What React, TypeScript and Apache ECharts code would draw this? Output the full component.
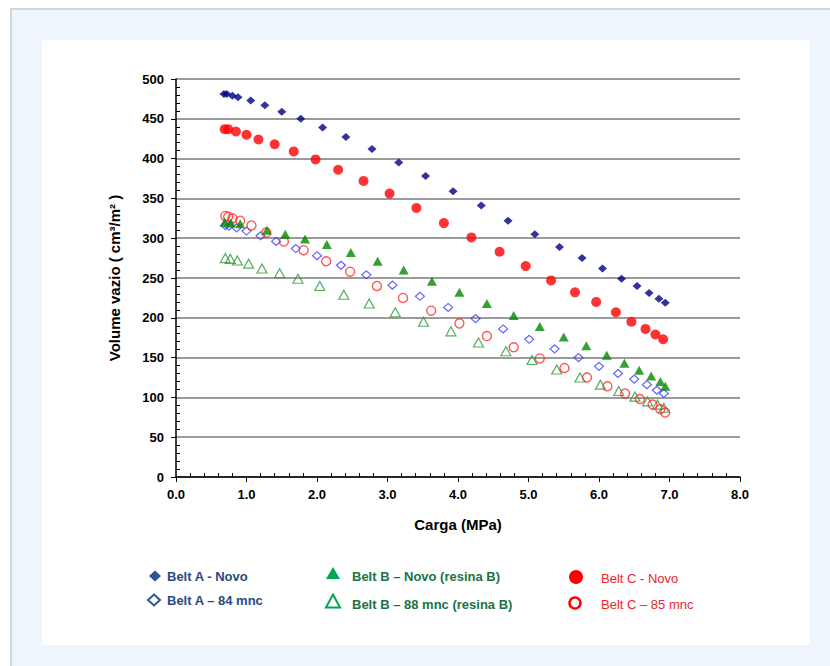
import React, { useEffect, useRef } from "react";
import * as echarts from "echarts";

// ---- Data ----
const beltANovoX = [0.68, 0.72, 0.8, 0.88, 1.06, 1.26, 1.5, 1.77, 2.08, 2.41, 2.78, 3.16, 3.54, 3.93, 4.33, 4.71, 5.09, 5.44, 5.76, 6.05, 6.32, 6.54, 6.71, 6.85, 6.94];
const beltANovoY = [481, 481, 479, 477, 473, 467, 459, 450, 439, 427, 412, 395, 378, 359, 341, 322, 305, 289, 275, 262, 249, 240, 231, 224, 219];

const beltA84X = [0.7, 0.75, 0.86, 1.0, 1.2, 1.42, 1.7, 2.0, 2.34, 2.7, 3.07, 3.46, 3.86, 4.25, 4.64, 5.01, 5.37, 5.71, 6.0, 6.27, 6.5, 6.68, 6.82, 6.92];
const beltA84Y = [316, 315, 313, 309, 303, 296, 287, 278, 266, 254, 241, 227, 213, 199, 186, 173, 161, 150, 139, 130, 123, 116, 109, 105];

const beltBNovoX = [0.69, 0.78, 0.91, 1.29, 1.55, 1.83, 2.14, 2.48, 2.86, 3.23, 3.63, 4.02, 4.41, 4.79, 5.16, 5.5, 5.82, 6.11, 6.36, 6.57, 6.74, 6.87, 6.94];
const beltBNovoY = [320, 319, 318, 310, 305, 299, 292, 282, 271, 260, 246, 232, 218, 203, 189, 176, 165, 153, 143, 134, 127, 120, 114];

const beltB88X = [0.7, 0.77, 0.87, 1.03, 1.22, 1.47, 1.73, 2.04, 2.38, 2.74, 3.11, 3.51, 3.9, 4.29, 4.68, 5.05, 5.4, 5.73, 6.02, 6.28, 6.51, 6.69, 6.83, 6.92];
const beltB88Y = [275, 274, 272, 268, 262, 256, 249, 240, 229, 218, 207, 195, 183, 169, 158, 147, 135, 125, 116, 108, 101, 95, 91, 87];

const beltCNovoX = [0.69, 0.74, 0.85, 1.0, 1.17, 1.4, 1.67, 1.98, 2.3, 2.66, 3.03, 3.41, 3.8, 4.19, 4.59, 4.96, 5.32, 5.66, 5.96, 6.24, 6.46, 6.66, 6.8, 6.91];
const beltCNovoY = [437, 437, 434, 430, 424, 418, 409, 399, 386, 372, 356, 338, 319, 301, 283, 265, 247, 232, 220, 207, 195, 186, 179, 173];

const beltC85X = [0.7, 0.74, 0.8, 0.91, 1.07, 1.28, 1.53, 1.81, 2.13, 2.47, 2.85, 3.22, 3.62, 4.02, 4.41, 4.79, 5.16, 5.51, 5.83, 6.12, 6.37, 6.58, 6.76, 6.87, 6.94];
const beltC85Y = [328, 327, 325, 322, 316, 307, 296, 285, 271, 258, 240, 225, 209, 193, 177, 163, 149, 137, 125, 114, 105, 98, 91, 85, 81];

const seriesNames = [
  "Belt A - Novo",
  "Belt A – 84 mnc",
  "Belt B – Novo (resina B)",
  "Belt B – 88 mnc (resina B)",
  "Belt C - Novo",
  "Belt C – 85 mnc",
];

const xAxisTitle = "Carga (MPa)";
const yAxisTitle = "Volume vazio ( cm³/m² )";

const zip = (xs: number[], ys: number[]) => xs.map((x, i) => [x, ys[i]]);

export default function App() {
  const ref = useRef<HTMLDivElement>(null);

  useEffect(() => {
    document.body.style.margin = "0";
    const chart = echarts.init(ref.current!, null, { renderer: "svg" });

    const axisFont = {
      fontFamily: "Liberation Sans, Arial, sans-serif",
      fontWeight: "bold" as const,
      fontSize: 13,
      color: "#000",
    };
    const legFont = "Liberation Sans, Arial, sans-serif";

    const diamond = (cx: number, cy: number, w: number, h: number) => [
      [cx, cy - h / 2],
      [cx + w / 2, cy],
      [cx, cy + h / 2],
      [cx - w / 2, cy],
    ];
    const tri = (cx: number, cy: number, w: number, h: number) => [
      [cx, cy - h / 2],
      [cx + w / 2, cy + h / 2],
      [cx - w / 2, cy + h / 2],
    ];

    const option: any = {
      animation: false,
      grid: { left: 176, right: 90, top: 79, bottom: 189, containLabel: false },
      xAxis: [
        {
          type: "value",
          min: 0,
          max: 8,
          interval: 1,
          name: xAxisTitle,
          nameLocation: "middle",
          nameGap: 40,
          nameTextStyle: { ...axisFont, fontSize: 15 },
          axisLine: { show: true, lineStyle: { color: "#000", width: 1.5 } },
          axisTick: { show: true, inside: false, length: 5, lineStyle: { color: "#000" } },
          axisLabel: { ...axisFont, margin: 11, formatter: (v: number) => v.toFixed(1) },
          splitLine: { show: false },
        },
        {
          type: "value",
          min: 0,
          max: 8,
          interval: 1,
          position: "bottom",
          axisLine: { show: false },
          axisTick: { show: false, inside: true },
          minorTick: { show: true, splitNumber: 5, length: 4, lineStyle: { color: "#000" } },
          axisLabel: { show: false },
          splitLine: { show: false },
        },
      ],
      yAxis: [
        {
          type: "value",
          min: 0,
          max: 500,
          interval: 50,
          name: yAxisTitle,
          nameLocation: "middle",
          nameGap: 54,
          nameTextStyle: { ...axisFont, fontSize: 15 },
          axisLine: { show: true, lineStyle: { color: "#000", width: 1.5 } },
          axisTick: { show: true, inside: false, length: 5, lineStyle: { color: "#000" } },
          axisLabel: { ...axisFont, margin: 12 },
          splitLine: { show: true, lineStyle: { color: "#7a7a7a", width: 1.6 } },
        },
        {
          type: "value",
          min: 0,
          max: 500,
          interval: 50,
          position: "left",
          axisLine: { show: false },
          axisTick: { show: false, inside: true },
          minorTick: { show: true, splitNumber: 5, length: 4, lineStyle: { color: "#000" } },
          axisLabel: { show: false },
          splitLine: { show: false },
        },
      ],
      series: [
        {
          name: seriesNames[1],
          type: "scatter",
          symbol: "diamond",
          symbolSize: [9, 8],
          itemStyle: { color: "rgba(255,255,255,0)", borderColor: "#3b3bff", borderWidth: 1.2 },
          data: zip(beltA84X, beltA84Y),
        },
        {
          name: seriesNames[3],
          type: "scatter",
          symbol: "triangle",
          symbolSize: [10, 9],
          itemStyle: { color: "rgba(255,255,255,0)", borderColor: "#2e9a3a", borderWidth: 1.2 },
          data: zip(beltB88X, beltB88Y),
        },
        {
          name: seriesNames[5],
          type: "scatter",
          symbol: "circle",
          symbolSize: 9,
          itemStyle: { color: "rgba(255,255,255,0)", borderColor: "#ff2a2a", borderWidth: 1.4 },
          data: zip(beltC85X, beltC85Y),
        },
        {
          name: seriesNames[2],
          type: "scatter",
          symbol: "triangle",
          symbolSize: [10, 9],
          itemStyle: { color: "#008a00" },
          data: zip(beltBNovoX, beltBNovoY),
        },
        {
          name: seriesNames[4],
          type: "scatter",
          symbol: "circle",
          symbolSize: 10,
          itemStyle: { color: "#ff0000" },
          data: zip(beltCNovoX, beltCNovoY),
        },
        {
          name: seriesNames[0],
          type: "scatter",
          symbol: "diamond",
          symbolSize: [9, 8],
          itemStyle: { color: "#000088" },
          data: zip(beltANovoX, beltANovoY),
        },
      ],
      graphic: [
        // Legend: Belt A
        { type: "polygon", shape: { points: diamond(155, 576, 12, 11) }, style: { fill: "#2e5597" } },
        {
          type: "text", x: 167, y: 576,
          style: { text: seriesNames[0], fill: "#2a4a7c", font: `bold 13px ${legFont}`, verticalAlign: "middle" },
        },
        { type: "polygon", shape: { points: diamond(154, 600, 12, 11) }, style: { fill: "none", stroke: "#2e5597", lineWidth: 2 } },
        {
          type: "text", x: 167, y: 600,
          style: { text: seriesNames[1], fill: "#2a4a7c", font: `bold 13px ${legFont}`, verticalAlign: "middle" },
        },
        // Legend: Belt B
        { type: "polygon", shape: { points: tri(333, 573, 14, 12) }, style: { fill: "#00a651" } },
        {
          type: "text", x: 352, y: 576,
          style: { text: seriesNames[2], fill: "#1b7342", font: `bold 13px ${legFont}`, verticalAlign: "middle" },
        },
        { type: "polygon", shape: { points: tri(333, 601, 14, 13) }, style: { fill: "none", stroke: "#00a651", lineWidth: 2 } },
        {
          type: "text", x: 352, y: 604,
          style: { text: seriesNames[3], fill: "#1b7342", font: `bold 13px ${legFont}`, verticalAlign: "middle" },
        },
        // Legend: Belt C
        { type: "circle", shape: { cx: 576, cy: 577, r: 7 }, style: { fill: "#ff0000" } },
        {
          type: "text", x: 601, y: 578,
          style: { text: seriesNames[4], fill: "#e8262b", font: `13px ${legFont}`, verticalAlign: "middle" },
        },
        { type: "circle", shape: { cx: 575, cy: 603, r: 5.5 }, style: { fill: "none", stroke: "#ff0000", lineWidth: 2.5 } },
        {
          type: "text", x: 601, y: 604,
          style: { text: seriesNames[5], fill: "#e8262b", font: `13px ${legFont}`, verticalAlign: "middle" },
        },
      ],
    };

    chart.setOption(option);
    return () => chart.dispose();
  }, []);

  return (
    <div style={{ position: "relative", width: 830, height: 666, background: "#ffffff", overflow: "hidden" }}>
      <div
        style={{
          position: "absolute",
          left: 10,
          top: 8,
          width: 830,
          height: 666,
          background: "#eef5fc",
          border: "2px solid #d3d8dd",
          boxSizing: "border-box",
        }}
      />
      <div style={{ position: "absolute", left: 42, top: 40, width: 768, height: 605, background: "#ffffff" }} />
      <div ref={ref} style={{ position: "absolute", left: 0, top: 0, width: 830, height: 666 }} />
    </div>
  );
}
